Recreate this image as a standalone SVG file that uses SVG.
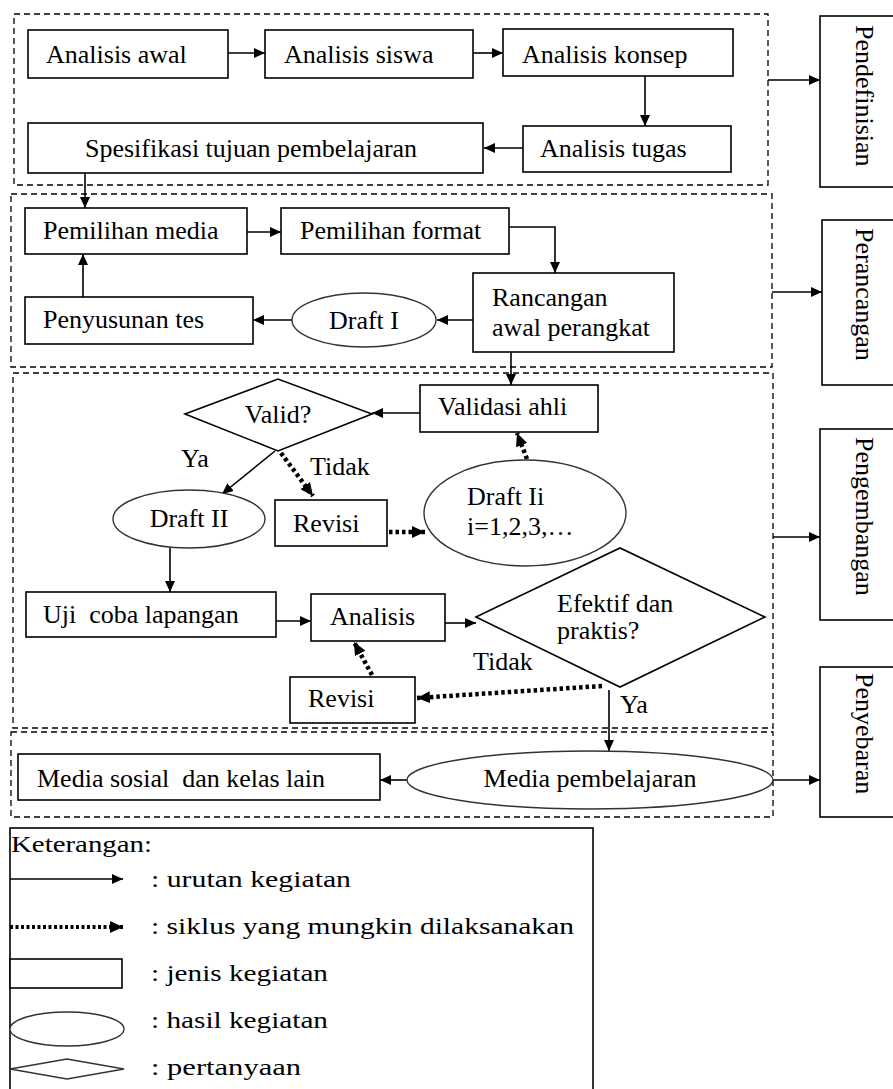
<svg xmlns="http://www.w3.org/2000/svg" width="893" height="1089" viewBox="0 0 893 1089">
<defs>
<marker id="ah" markerUnits="userSpaceOnUse" markerWidth="12" markerHeight="10" refX="11" refY="5" orient="auto">
<path d="M0,0 L11,5 L0,10 z" fill="#000"/>
</marker>
<marker id="ahd" markerUnits="userSpaceOnUse" markerWidth="14" markerHeight="12" refX="13" refY="6" orient="auto">
<path d="M0,0 L13,6 L0,12 z" fill="#000"/>
</marker>
<style>
.t{font-family:"Liberation Serif","Times New Roman",serif;font-size:26px;fill:#000}
.lg{font-family:"Liberation Serif","Times New Roman",serif;font-size:24px;fill:#000}
.box{fill:#fff;stroke:#000;stroke-width:1.6}
.ell{fill:#fff;stroke:#333;stroke-width:1.4}
.grp{fill:none;stroke:#000;stroke-width:1.3;stroke-dasharray:6 4}
.c{fill:none;stroke:#000;stroke-width:1.6;marker-end:url(#ah)}
.d{fill:none;stroke:#000;stroke-width:4.5;stroke-dasharray:3.5 3;marker-end:url(#ahd)}
</style>
</defs>
<rect width="893" height="1089" fill="#fff"/>

<g id="groups">
<rect class="grp" x="14" y="14" width="754" height="171"/>
<rect class="grp" x="11" y="194" width="761" height="173"/>
<rect class="grp" x="13" y="373" width="760" height="355"/>
<rect class="grp" x="11" y="732" width="762" height="85"/>
</g>

<g id="connectors">
<line class="c" x1="228" y1="53" x2="265" y2="53"/>
<line class="c" x1="473" y1="53" x2="503" y2="53"/>
<line class="c" x1="645" y1="76" x2="645" y2="126"/>
<line class="c" x1="523" y1="148" x2="484" y2="148"/>
<line class="c" x1="85" y1="173" x2="85" y2="208"/>
<line class="c" x1="768" y1="80" x2="820" y2="80"/>
<line class="c" x1="247" y1="232" x2="281" y2="232"/>
<polyline class="c" points="509,227 555,227 555,273"/>
<line class="c" x1="473" y1="320" x2="437" y2="320"/>
<line class="c" x1="292" y1="320" x2="253" y2="320"/>
<line class="c" x1="83" y1="297" x2="83" y2="254"/>
<line class="c" x1="772" y1="292" x2="822" y2="292"/>
<line class="c" x1="511" y1="352" x2="511" y2="385"/>
<line class="c" x1="420" y1="413" x2="372" y2="413"/>
<line class="c" x1="275" y1="451" x2="222" y2="494"/>
<line class="d" x1="281" y1="453" x2="313" y2="496"/>
<line class="d" x1="389" y1="532" x2="425" y2="532"/>
<line class="d" x1="527" y1="459" x2="517" y2="433"/>
<line class="c" x1="773" y1="537" x2="820" y2="537"/>
<line class="c" x1="170" y1="548" x2="170" y2="592"/>
<line class="c" x1="272" y1="621" x2="311" y2="621"/>
<line class="c" x1="445" y1="623" x2="476" y2="623"/>
<line class="d" x1="602" y1="686" x2="417" y2="698"/>
<line class="d" x1="372" y1="675" x2="354" y2="642"/>
<line class="c" x1="609" y1="690" x2="609" y2="751"/>
<line class="c" x1="407" y1="780" x2="380" y2="780"/>
<line class="c" x1="773" y1="780" x2="820" y2="780"/>
</g>

<g id="n-analisis-awal"><rect class="box" x="28" y="30" width="200" height="48"/><text class="t" x="46" y="63">Analisis awal</text></g>
<g id="n-analisis-siswa"><rect class="box" x="265" y="30" width="208" height="48"/><text class="t" x="284" y="63">Analisis siswa</text></g>
<g id="n-analisis-konsep"><rect class="box" x="503" y="29" width="230" height="47"/><text class="t" x="522" y="63">Analisis konsep</text></g>
<g id="n-analisis-tugas"><rect class="box" x="523" y="126" width="208" height="46"/><text class="t" x="540" y="157">Analisis tugas</text></g>
<g id="n-spesifikasi"><rect class="box" x="28" y="123" width="455" height="50"/><text class="t" x="85" y="157">Spesifikasi tujuan pembelajaran</text></g>
<g id="n-pendefinisian"><rect class="box" x="820" y="16" width="80" height="171"/><text class="t" transform="translate(856,25) rotate(90)">Pendefinisian</text></g>

<g id="n-pemilihan-media"><rect class="box" x="25" y="208" width="222" height="46"/><text class="t" x="43" y="239">Pemilihan media</text></g>
<g id="n-pemilihan-format"><rect class="box" x="281" y="208" width="228" height="46"/><text class="t" x="300" y="239">Pemilihan format</text></g>
<g id="n-rancangan"><rect class="box" x="473" y="273" width="201" height="79"/><text class="t" x="492" y="306">Rancangan</text><text class="t" x="492" y="336">awal perangkat</text></g>
<g id="n-draft1"><ellipse class="ell" cx="364" cy="320" rx="72" ry="27"/><text class="t" x="364" y="329" text-anchor="middle">Draft I</text></g>
<g id="n-penyusunan"><rect class="box" x="25" y="297" width="228" height="47"/><text class="t" x="43" y="328">Penyusunan tes</text></g>
<g id="n-perancangan"><rect class="box" x="822" y="220" width="80" height="165"/><text class="t" transform="translate(856,228) rotate(90)">Perancangan</text></g>

<g id="n-validasi"><rect class="box" x="420" y="385" width="178" height="47"/><text class="t" x="438" y="415">Validasi ahli</text></g>
<g id="n-valid"><polygon class="box" points="185,414 278,379 372,414 278,451"/><text class="t" x="278" y="423" text-anchor="middle">Valid?</text></g>
<g id="l-ya1"><text class="t" x="181" y="467">Ya</text></g>
<g id="l-tidak1"><text class="t" x="310" y="475">Tidak</text></g>
<g id="n-draft2"><ellipse class="ell" cx="189" cy="519" rx="76" ry="29"/><text class="t" x="189" y="527" text-anchor="middle">Draft II</text></g>
<g id="n-revisi1"><rect class="box" x="275" y="500" width="112" height="46"/><text class="t" x="293" y="532">Revisi</text></g>
<g id="n-draft-ii"><ellipse class="ell" cx="525" cy="513" rx="101" ry="53"/><text class="t" x="467" y="505">Draft Ii</text><text class="t" x="467" y="535">i=1,2,3,…</text></g>
<g id="n-pengembangan"><rect class="box" x="820" y="429" width="80" height="191"/><text class="t" transform="translate(856,437) rotate(90)">Pengembangan</text></g>
<g id="n-uji"><rect class="box" x="26" y="592" width="250" height="45"/><text class="t" x="43" y="623" xml:space="preserve">Uji  coba lapangan</text></g>
<g id="n-analisis"><rect class="box" x="311" y="594" width="134" height="47"/><text class="t" x="330" y="625">Analisis</text></g>
<g id="n-efektif"><polygon class="box" points="476,617 620,548 765,617 620,687"/><text class="t" x="557" y="612">Efektif dan</text><text class="t" x="557" y="639">praktis?</text></g>
<g id="l-tidak2"><text class="t" x="473" y="670">Tidak</text></g>
<g id="n-revisi2"><rect class="box" x="290" y="677" width="125" height="46"/><text class="t" x="308" y="707">Revisi</text></g>
<g id="l-ya2"><text class="t" x="620" y="713">Ya</text></g>

<g id="n-media-sosial"><rect class="box" x="18" y="754" width="362" height="46"/><text class="t" x="37" y="787" xml:space="preserve">Media sosial  dan kelas lain</text></g>
<g id="n-media-pembelajaran"><ellipse class="ell" cx="590" cy="780" rx="183" ry="29"/><text class="t" x="590" y="787" text-anchor="middle">Media pembelajaran</text></g>
<g id="n-penyebaran"><rect class="box" x="820" y="667" width="80" height="150"/><text class="t" transform="translate(856,673) rotate(90)">Penyebaran</text></g>

<g id="legend">
<rect x="10" y="828" width="583" height="270" fill="#fff" stroke="#000" stroke-width="1.6"/>
<text class="lg" x="11" y="852" textLength="141" lengthAdjust="spacingAndGlyphs">Keterangan:</text>
<line x1="10" y1="879" x2="123" y2="879" stroke="#000" stroke-width="1.6" marker-end="url(#ah)"/>
<text class="lg" x="151" y="887" textLength="200" lengthAdjust="spacingAndGlyphs">: urutan kegiatan</text>
<line x1="10" y1="927" x2="123" y2="927" stroke="#000" stroke-width="4" stroke-dasharray="3 2.5" marker-end="url(#ahd)"/>
<text class="lg" x="151" y="934" textLength="423" lengthAdjust="spacingAndGlyphs">: siklus yang mungkin dilaksanakan</text>
<rect class="box" x="10" y="959" width="112" height="29"/>
<text class="lg" x="151" y="981" textLength="177" lengthAdjust="spacingAndGlyphs">: jenis kegiatan</text>
<ellipse class="ell" cx="67" cy="1029" rx="57" ry="17"/>
<text class="lg" x="151" y="1028" textLength="177" lengthAdjust="spacingAndGlyphs">: hasil kegiatan</text>
<polygon class="ell" points="10,1069 67,1059 124,1069 67,1079"/>
<text class="lg" x="151" y="1075" textLength="150" lengthAdjust="spacingAndGlyphs">: pertanyaan</text>
</g>
</svg>
